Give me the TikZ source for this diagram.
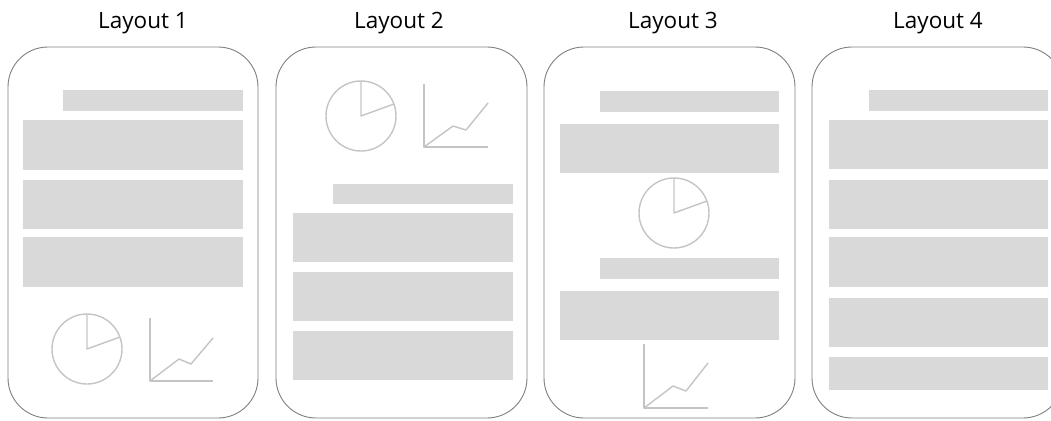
\documentclass[tikz,border=0pt]{standalone}
\usepackage{fontspec}
\setmainfont{Open Sans}
\definecolor{barGray}{HTML}{D9D9D9}
\definecolor{frameGray}{HTML}{7F7F7F}
\definecolor{sketchGray}{HTML}{C4C4C4}

\tikzset{
  bar/.style={fill=barGray},
  frame/.style={draw=frameGray, line width=0.9pt, rounded corners=40pt},
  sketch/.style={draw=sketchGray, line width=1.4pt, line join=round},
  title/.style={anchor=base, font=\fontsize{22.5}{26}\selectfont}
}

\begin{document}
\begin{tikzpicture}[x=1pt, y=-1pt]
\useasboundingbox (0,0) rectangle (1051,420);
\clip (0,0) rectangle (1051,420);

% titles
\node[title] (t1) at (143,29) {Layout 1};
\node[title] (t2) at (399,29) {Layout 2};
\node[title] (t3) at (673,29) {Layout 3};
\node[title] (t4) at (938,29) {Layout 4};

% frames
\draw[frame] (8,47) rectangle (258,418);
\draw[frame] (276,47) rectangle (527,418);
\draw[frame] (544,47) rectangle (795,418);
\draw[frame] (812,47) rectangle (1063,418);

% layout 1
\fill[bar] (63,90) rectangle (243,111);
\fill[bar] (23,120) rectangle (243,170);
\fill[bar] (23,180) rectangle (243,229);
\fill[bar] (23,237) rectangle (243,287);
\coordinate (p1) at (87,349);
\draw[sketch] (p1) circle (35);
\draw[sketch] (87,314)--(p1)--(120,337);
\draw[sketch] (150,318)--(150,381)--(213,381);
\draw[sketch] (150,381)--(179,359)--(191,364)--(213,338);

% layout 2
\coordinate (p2) at (361,116);
\draw[sketch] (p2) circle (35);
\draw[sketch] (361,81)--(p2)--(394,104);
\draw[sketch] (424,84)--(424,147)--(488,147);
\draw[sketch] (424,147)--(453,126)--(466,130)--(488,103);
\fill[bar] (333,184) rectangle (513,204);
\fill[bar] (293,213) rectangle (513,262);
\fill[bar] (293,272) rectangle (513,321);
\fill[bar] (293,331) rectangle (513,380);

% layout 3
\fill[bar] (600,91) rectangle (779,112);
\fill[bar] (560,124) rectangle (779,173);
\coordinate (p3) at (674,213);
\draw[sketch] (p3) circle (35);
\draw[sketch] (674,178)--(p3)--(707,201);
\fill[bar] (600,258) rectangle (779,279);
\fill[bar] (560,291) rectangle (779,340);
\draw[sketch] (644,344)--(644,408)--(708,408);
\draw[sketch] (644,408)--(673,386)--(686,391)--(708,363);

% layout 4
\fill[bar] (869,90) rectangle (1048,111);
\fill[bar] (829,120) rectangle (1048,169);
\fill[bar] (829,180) rectangle (1048,229);
\fill[bar] (829,237) rectangle (1048,287);
\fill[bar] (829,298) rectangle (1048,347);
\fill[bar] (829,357) rectangle (1048,390);
\end{tikzpicture}
\end{document}
